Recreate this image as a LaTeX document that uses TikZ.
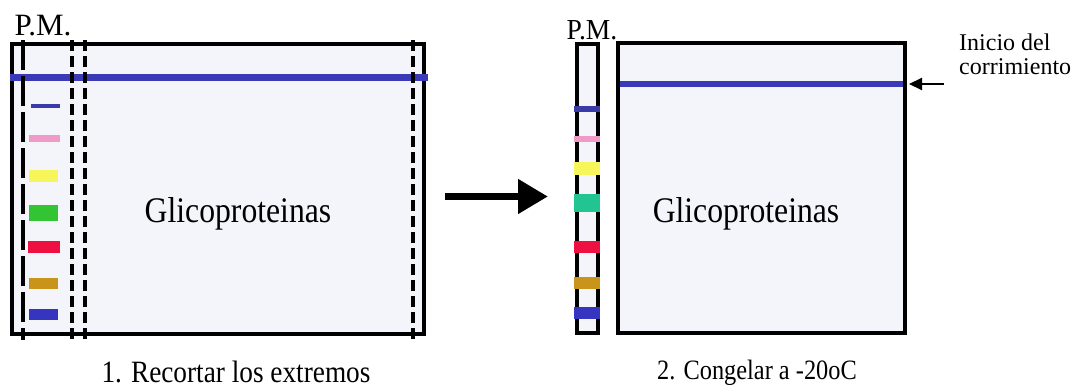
\documentclass[tikz,border=0pt]{standalone}
\usepackage{fontspec}
\setmainfont{Liberation Serif}
\usetikzlibrary{arrows.meta}
\definecolor{gelfill}{HTML}{F3F5FB}
\definecolor{runblue}{HTML}{3A3AB8}
\definecolor{bdblue}{HTML}{3A3AA8}
\definecolor{bdpink}{HTML}{F09AC8}
\definecolor{bdyellow}{HTML}{F6F65A}
\definecolor{bdgreen}{HTML}{33C433}
\definecolor{bdteal}{HTML}{22C490}
\definecolor{bdred}{HTML}{EE1040}
\definecolor{bdorange}{HTML}{C8941A}
\definecolor{bdblueb}{HTML}{3535C0}
\tikzset{
  gel/.style={draw=black, line width=4.5pt, fill=gelfill},
  cutline/.style={draw=black, line width=3.3pt, dash pattern=on 11pt off 5pt},
  cutlinelong/.style={draw=black, line width=3.3pt, dash pattern=on 30pt off 6pt},
  lbl/.style={inner sep=0pt, anchor=base, text=black},
}
\begin{document}
\begin{tikzpicture}[x=1pt,y=-1pt]
\useasboundingbox (0,0) rectangle (1075,388);
% ---------- left gel ----------
\path[gel] (12,44) rectangle (424,334);
\fill[runblue] (10,74) rectangle (428,81);
\fill[bdblue]   (31,104) rectangle (60,108);
\fill[bdpink]   (29,135) rectangle (60,142);
\fill[bdyellow] (29,170) rectangle (58,182);
\fill[bdgreen]  (29,205) rectangle (58,221);
\fill[bdred]    (28,241) rectangle (60,253);
\fill[bdorange] (29,278) rectangle (58,289);
\fill[bdblueb]  (29,309) rectangle (58,320);
\coordinate (c1t) at (23,40);  \coordinate (c1b) at (23,340);
\coordinate (c2t) at (72,40);  \coordinate (c2b) at (72,340);
\coordinate (c3t) at (85,40);  \coordinate (c3b) at (85,340);
\coordinate (c4t) at (413,40); \coordinate (c4b) at (413,340);
\draw[cutlinelong] (c1t) -- (c1b);
\draw[cutline] (c2t) -- (c2b);
\draw[cutline] (c3t) -- (c3b);
\draw[cutline] (c4t) -- (c4b);
\node[lbl, font=\fontsize{31}{31}\selectfont] (pm1) at (43,35) {P.M.};
\node[lbl, font=\fontsize{36}{36}\selectfont, xscale=0.88, transform shape] (gl1) at (238,222) {Glicoproteinas};
\node[lbl, font=\fontsize{31}{31}\selectfont, xscale=0.88, transform shape] (cap1) at (236,382) {1. Recortar los extremos};
% ---------- arrow ----------
\coordinate (aS) at (445,196.5);
\coordinate (aE) at (548,196.5);
\draw[line width=7.5pt, -{Triangle[length=30pt,width=33pt]}] (aS) -- (aE);
% ---------- right: marker strip ----------
\path[gel] (577,44) rectangle (598,333);
\fill[bdblue]   (574,106) rectangle (600,112);
\fill[bdpink]   (574,136) rectangle (600,142);
\fill[bdyellow] (574,162) rectangle (600,175);
\fill[bdteal]   (574,194) rectangle (600,212);
\fill[bdred]    (574,241) rectangle (600,253);
\fill[bdorange] (574,277) rectangle (600,289);
\fill[bdblueb]  (574,307) rectangle (600,319);
\node[lbl, font=\fontsize{29}{29}\selectfont, xscale=0.95, transform shape] (pm2) at (592,39) {P.M.};
% ---------- right gel ----------
\path[fill=gelfill] (618,43) rectangle (905,333);
\fill[runblue] (618,80.5) rectangle (905,87);
\path[draw=black, line width=4.5pt] (618,43) rectangle (905,333);
\node[lbl, font=\fontsize{36}{36}\selectfont, xscale=0.88, transform shape] (gl2) at (746,222) {Glicoproteinas};
\node[lbl, font=\fontsize{28}{28}\selectfont, xscale=0.87, transform shape] (cap2) at (757,379) {2. Congelar a -20oC};
% ---------- start marker ----------
\node[lbl, font=\fontsize{24}{24}\selectfont, anchor=base west, align=left] (ini) at (959,74) {Inicio del\\corrimiento};
\coordinate (mS) at (944,84);
\coordinate (mE) at (909,84);
\draw[line width=2.2pt, -{Triangle[length=13pt,width=12pt]}] (mS) -- (mE);
\end{tikzpicture}
\end{document}
